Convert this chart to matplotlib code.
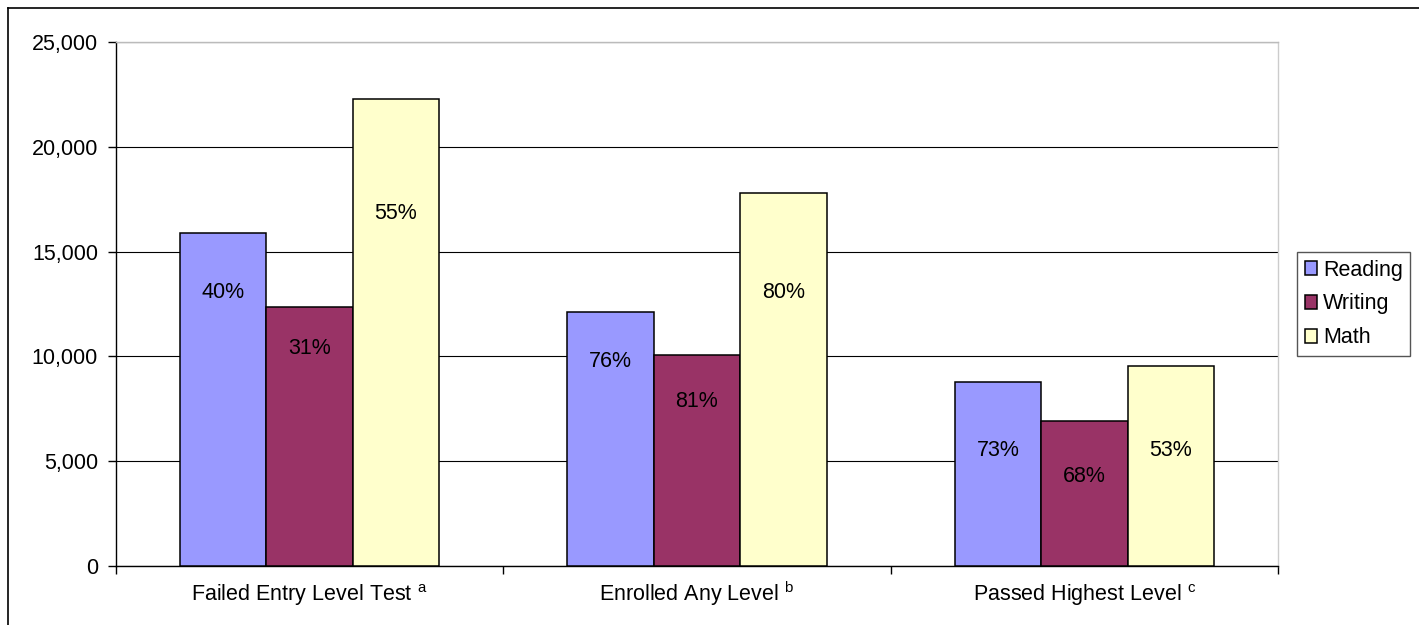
import matplotlib.pyplot as plt
import numpy as np
from matplotlib.lines import Line2D

plt.rcParams['font.family'] = ['Liberation Sans', 'DejaVu Sans']
plt.rcParams['mathtext.fontset'] = 'custom'
plt.rcParams['mathtext.rm'] = 'Liberation Sans'
plt.rcParams['mathtext.it'] = 'Liberation Sans'

# Data
categories = [r'Failed Entry Level Test $^{\rm a}$',
              r'Enrolled Any Level $^{\rm b}$',
              r'Passed Highest Level $^{\rm c}$']
series = ['Reading', 'Writing', 'Math']
reading = [15900, 12100, 8800]
writing = [12350, 10050, 6900]
math_ = [22270, 17800, 9530]
reading_pct = ['40%', '76%', '73%']
writing_pct = ['31%', '81%', '68%']
math_pct = ['55%', '80%', '53%']
# heights (data units) where the percentage labels sit
reading_lbl_y = [13070, 9780, 5530]
writing_lbl_y = [10400, 7870, 4260]
math_lbl_y = [16840, 13070, 5530]
yticks = [0, 5000, 10000, 15000, 20000, 25000]

colors = ['#9999FF', '#993366', '#FFFFCC']

fig = plt.figure(figsize=(14.19, 6.25), dpi=100)
ax = fig.add_axes([116 / 1419, 59 / 625, 1162 / 1419, 524 / 625])

x = np.arange(len(categories))
width = 0.223
values = [reading, writing, math_]
pcts = [reading_pct, writing_pct, math_pct]
lbl_y = [reading_lbl_y, writing_lbl_y, math_lbl_y]

for i, (name, vals, col) in enumerate(zip(series, values, colors)):
    pos = x + (i - 1) * width
    ax.bar(pos, vals, width, color=col, edgecolor='black', linewidth=1.1,
           label=name, zorder=3)
    for px, py, txt in zip(pos, lbl_y[i], pcts[i]):
        ax.text(px, py, txt, ha='center', va='center', fontsize=15.5,
                color='black', zorder=4)

ax.set_xlim(-0.5, 2.5)
ax.set_ylim(0, 25000)
ax.set_yticks(yticks)
ax.set_yticklabels([f'{v:,}' for v in yticks])
ax.yaxis.grid(True, color='black', linewidth=0.8, zorder=0)

# category boundaries get the tick marks, names sit at the centres
ax.set_xticks([-0.5, 0.5, 1.5, 2.5])
ax.set_xticklabels([])
ax.set_xticks(x, minor=True)
ax.set_xticklabels(categories, minor=True)
ax.tick_params(axis='x', which='major', direction='out', length=6, width=1)
ax.tick_params(axis='x', which='minor', length=0, pad=25, labelsize=15.5)
for lbl in ax.get_xticklabels(minor=True):
    lbl.set_verticalalignment('baseline')
ax.tick_params(axis='y', direction='out', length=6, width=1, pad=7,
               labelsize=15.5)

ax.spines['top'].set_color('#BBBBBB')
ax.spines['right'].set_color('#CCCCCC')
ax.spines['left'].set_color('black')
ax.spines['bottom'].set_color('black')
for s in ax.spines.values():
    s.set_linewidth(1)

leg = fig.legend(loc='upper left', bbox_to_anchor=(1297 / 1419, 1 - 252 / 625),
                 fontsize=15.5, frameon=True, fancybox=False, framealpha=1,
                 edgecolor='#555555', handlelength=0.6, handleheight=0.6,
                 handletextpad=0.25, labelspacing=0.6, borderpad=0.35,
                 borderaxespad=0)
leg.get_frame().set_linewidth(1)
for h in leg.legend_handles:
    h.set_edgecolor('black')

# outer chart border (only top and left visible in the crop)
fig.add_artist(Line2D([8 / 1419, 8 / 1419], [0, 1 - 8 / 625],
                      transform=fig.transFigure, color='black', linewidth=1.2))
fig.add_artist(Line2D([8 / 1419, 1], [1 - 8 / 625, 1 - 8 / 625],
                      transform=fig.transFigure, color='black', linewidth=1.2))

fig.savefig('out.png', dpi=100)
